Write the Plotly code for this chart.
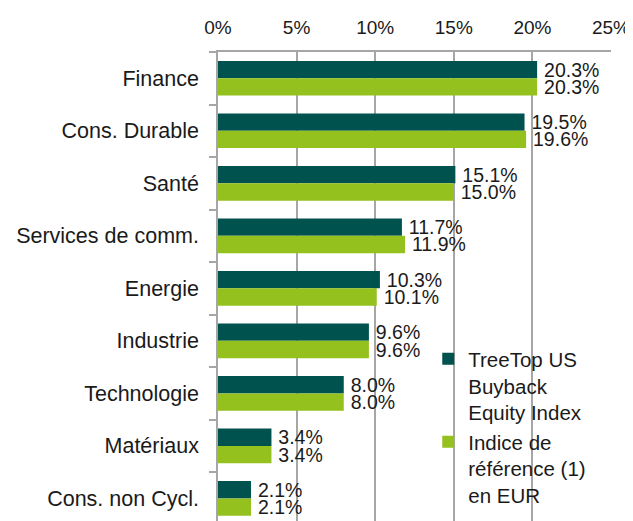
import plotly.graph_objects as go

categories = ["Finance", "Cons. Durable", "Santé", "Services de comm.", "Energie",
              "Industrie", "Technologie", "Matériaux", "Cons. non Cycl."]
treetop = [20.3, 19.5, 15.1, 11.7, 10.3, 9.6, 8.0, 3.4, 2.1]
indice = [20.3, 19.6, 15.0, 11.9, 10.1, 9.6, 8.0, 3.4, 2.1]
series_names = ["TreeTop US<br>Buyback<br>Equity Index", "Indice de<br>référence (1)<br>en EUR"]
x_ticks = [0, 5, 10, 15, 20, 25]
x_tick_labels = ["0%", "5%", "10%", "15%", "20%", "25%"]

FONT = "Liberation Sans"
DARK = "#00524e"
GREEN = "#95c11f"
TXT = "#1a1a1a"

fig = go.Figure()
for name, vals, col, grp in [(series_names[0], treetop, DARK, "a"), (series_names[1], indice, GREEN, "b")]:
    fig.add_trace(go.Bar(
        y=categories, x=vals, orientation="h", name=name, legendgroup=grp,
        marker=dict(color=col, line=dict(width=0)),
        text=[f"\u2009{v:.1f}%" for v in vals], texttemplate="%{text}", textposition="outside",
        constraintext="none",
        textfont=dict(family=FONT, size=19.5, color=TXT), cliponaxis=False,
    ))

# the page body has an 8px margin, so the figure is 8px smaller and margins shifted
fig.update_layout(
    width=625, height=513,
    margin=dict(l=210, r=22, t=44, b=0),
    paper_bgcolor="white", plot_bgcolor="white",
    barmode="group", bargap=0.34, bargroupgap=0,
    font=dict(family=FONT, size=20, color=TXT),
    showlegend=True,
    legend=dict(x=0.535, y=0.388, xanchor="left", yanchor="top",
                font=dict(family=FONT, size=20.5, color=TXT),
                valign="top", tracegroupgap=0, bgcolor="rgba(0,0,0,0)",
                itemwidth=30),
    xaxis=dict(side="top", range=[0, 25], tickvals=x_ticks, ticktext=x_tick_labels,
               showgrid=True, gridcolor="#a6a6a6", gridwidth=1.5,
               showline=True, linecolor="#a6a6a6", linewidth=1.5,
               ticks="", ticklabelstandoff=9, automargin=False,
               zeroline=False, tickfont=dict(size=19, family=FONT, color=TXT)),
    yaxis=dict(range=[8.43, -0.5], type="category",
               showline=True, linecolor="#a6a6a6", linewidth=1.5,
               ticks="outside", ticklen=7, tickcolor="#a6a6a6", tickwidth=1.5,
               tickson="boundaries", automargin=False,
               showgrid=False, ticklabelstandoff=13,
               tickfont=dict(size=21.5, family=FONT, color=TXT)),
)

fig.write_html("out.html")
